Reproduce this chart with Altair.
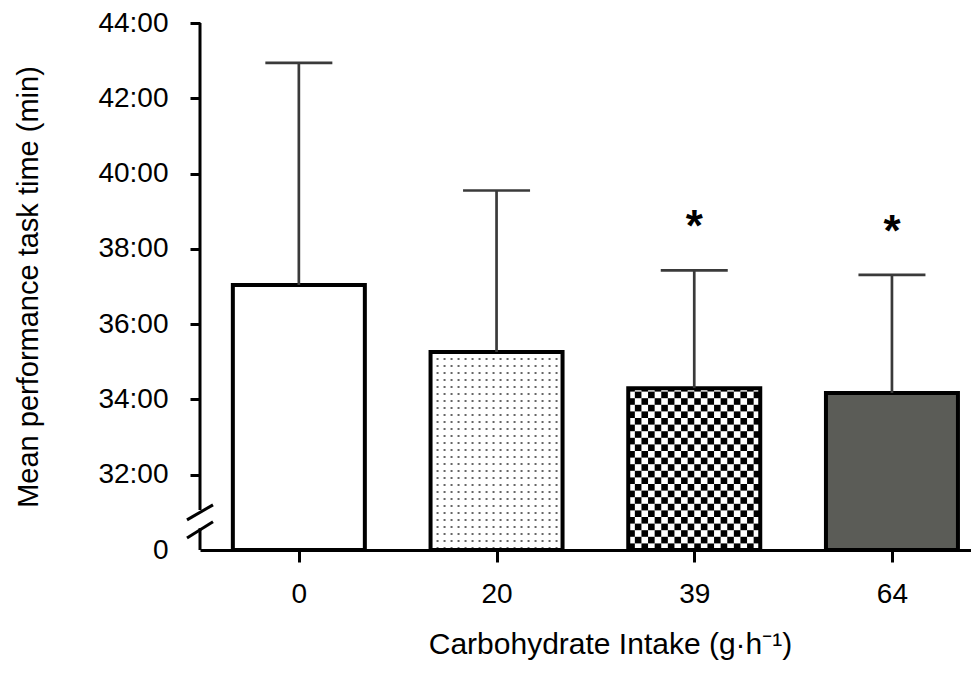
import altair as alt
import pandas as pd
import numpy as np

# ---- data ----
categories = ["0", "20", "39", "64"]          # carbohydrate intake (g/h)
means = [37.04, 35.26, 34.30, 34.17]           # mean task time (min)
sd_tops = [42.94, 39.55, 37.43, 37.31]         # mean + SD (min)
stars = ["", "", "*", "*"]
fills = ["#ffffff", "#ffffff", "#ffffff", "#5b5c57"]
y_ticks = [30, 32, 34, 36, 38, 40, 42, 44]     # 30 is shown as the broken "0"

# ---- layout constants ----
W, H = 771, 527
STEP_PX = 197.7
X_MAX = W / STEP_PX
Y_MIN, Y_MAX = 30, 44
PX_X = STEP_PX
PX_Y = H / (Y_MAX - Y_MIN)
HALF = 66 / PX_X
CAP = 33.5 / PX_X
FONT = "Liberation Sans"

n = len(categories)
bars = pd.DataFrame({
    "cat": categories,
    "c": [i + 0.5 for i in range(n)],
    "mean": means,
    "top": sd_tops,
    "star": stars,
    "fill": fills,
})
bars["x"] = bars["c"] - HALF
bars["x2"] = bars["c"] + HALF
bars["base"] = Y_MIN
bars["cl"] = bars["c"] - CAP
bars["cr"] = bars["c"] + CAP

# dotted pattern for the 20 g/h bar
b = bars.iloc[1]
dx, dy = 7 / PX_X, 7 / PX_Y
xs = np.arange(b["x"] + dx, b["x2"] - 2 / PX_X, dx)
ys = np.arange(b["mean"] - dy, Y_MIN + 2 / PX_Y, -dy)
dots = pd.DataFrame([(x, y) for y in ys for x in xs], columns=["x", "y"])

# checkerboard pattern for the 39 g/h bar
b = bars.iloc[2]
ncol = 20
cw = (b["x2"] - b["x"]) / ncol
ch = 6.6 / PX_Y
rows = []
r = 0
while Y_MIN + r * ch < b["mean"]:
    y0 = Y_MIN + r * ch
    y1 = min(y0 + ch, b["mean"])
    for c in range(ncol):
        if (r + c) % 2 == 0:
            rows.append((b["x"] + c * cw, b["x"] + (c + 1) * cw, y0, y1))
    r += 1
checks = pd.DataFrame(rows, columns=["x", "x2", "y", "y2"])

xscale = alt.Scale(domain=[0, X_MAX], nice=False, zero=False)
yscale = alt.Scale(domain=[Y_MIN, Y_MAX], nice=False, zero=False)

label_js = "[" + ",".join("'" + c + "'" for c in categories) + "]"

x_axis = alt.Axis(
    values=[i + 0.5 for i in range(n)],
    labelExpr=label_js + "[round(datum.value - 0.5)]",
    title="Carbohydrate Intake (g·h⁻¹)",
    grid=False, domain=True, domainColor="black", domainWidth=3,
    ticks=True, tickColor="black", tickWidth=3, tickSize=12,
    labelFontSize=28, labelFont=FONT, labelColor="black", labelPadding=18,
    titleFontSize=30, titleFont=FONT, titleFontWeight="normal", titleColor="black",
    titleX=410, titleY=94, titleBaseline="middle", zindex=1,
)
y_axis = alt.Axis(
    values=y_ticks,
    labelExpr="datum.value == 30 ? '0' : format(datum.value, 'd') + ':00'",
    title="Mean performance task time (min)",
    grid=False, domain=False,
    ticks=True, tickWidth=3, tickSize=10,
    tickColor={"condition": {"test": "datum.value == 30", "value": "transparent"}, "value": "black"},
    labelFontSize=28, labelFont=FONT, labelColor="black", labelPadding=22,
    titleFontSize=29, titleFont=FONT, titleFontWeight="normal", titleColor="black",
    titlePadding=54,
)

base = alt.Chart(bars)

fill_layer = base.mark_rect(stroke=None).encode(
    x=alt.X("x:Q", scale=xscale, axis=x_axis),
    x2="x2:Q",
    y=alt.Y("base:Q", scale=yscale, axis=y_axis),
    y2="mean:Q",
    color=alt.Color("fill:N", scale=None),
)

dot_layer = alt.Chart(dots).mark_square(size=4, color="#666666", opacity=1).encode(
    x="x:Q", y="y:Q"
)

check_layer = alt.Chart(checks).mark_rect(color="black", stroke=None).encode(
    x="x:Q", x2="x2:Q", y="y:Q", y2="y2:Q"
)

outline_layer = base.mark_rect(fillOpacity=0, stroke="black", strokeWidth=4).encode(
    x="x:Q", x2="x2:Q", y="base:Q", y2="mean:Q"
)

err_layer = base.mark_rule(color="#3a3a3a", strokeWidth=2.7).encode(
    x="c:Q", y="mean:Q", y2="top:Q"
)
cap_layer = base.mark_rule(color="#3a3a3a", strokeWidth=2.7).encode(
    x="cl:Q", x2="cr:Q", y="top:Q"
)
star_layer = base.mark_text(fontSize=44, fontWeight="bold", font=FONT, dy=-42,
                            baseline="middle", color="black").encode(
    x="c:Q", y="top:Q", text="star:N"
)

# broken y-axis line and break marks
axis_segs = pd.DataFrame({"y": [Y_MAX, 30.58], "y2": [31.06, Y_MIN]})
axis_layer = alt.Chart(axis_segs).mark_rule(color="black", strokeWidth=3).encode(
    x=alt.value(0), y="y:Q", y2="y2:Q"
)
slashes = pd.DataFrame({"y": [30.80, 30.32], "y2": [31.20, 30.75]})
slash_layer = alt.Chart(slashes).mark_rule(color="black", strokeWidth=3).encode(
    x=alt.value(-13), x2=alt.value(13), y="y:Q", y2="y2:Q"
)

chart = alt.layer(
    fill_layer, dot_layer, check_layer, outline_layer,
    err_layer, cap_layer, star_layer, axis_layer, slash_layer,
).properties(
    width=W, height=H,
    autosize=alt.AutoSizeParams(type="none"),
    padding={"left": 192, "top": 15, "right": 0, "bottom": 112},
    background="white",
).configure_view(stroke=None)

chart.save("out.html", embed_options={"renderer": "svg", "actions": False})
